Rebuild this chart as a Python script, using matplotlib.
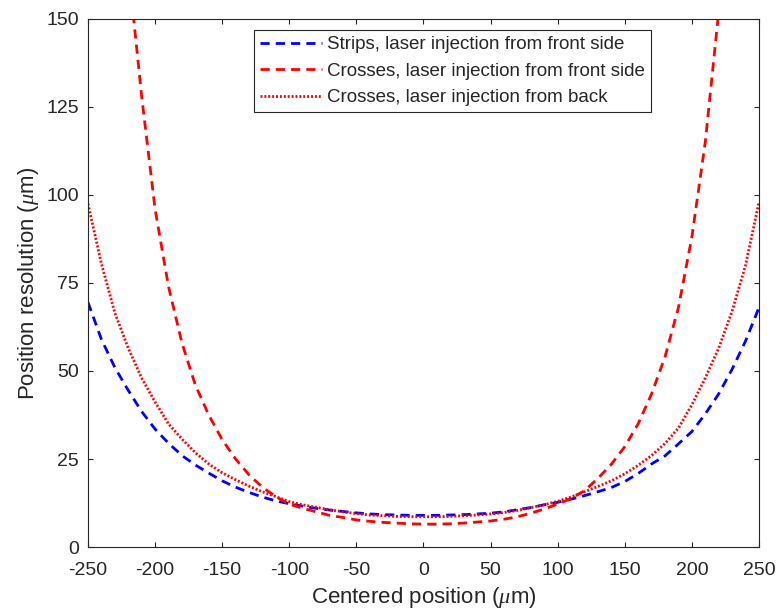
import numpy as np
import matplotlib.pyplot as plt

plt.rcParams['font.family'] = ['Liberation Sans', 'DejaVu Sans']
plt.rcParams['mathtext.fontset'] = 'custom'
plt.rcParams['mathtext.it'] = 'Liberation Serif:italic'
plt.rcParams['axes.unicode_minus'] = False

# positions in micrometers
x_pos = [-250, -240, -230, -220, -210, -200, -190, -180, -170, -160, -150,
         -140, -130, -120, -110, -100, -90, -80, -70, -60, -50, -40, -30,
         -20, -10, 0, 10, 20, 30, 40, 50, 60, 70, 80, 90, 100, 110, 120,
         130, 140, 150, 160, 170, 180, 190, 200, 210, 220, 230, 240, 250]

strips_front = [69.5, 59, 51, 44.5, 38.5, 33.5, 29.5, 26, 23.3, 21, 18.8,
                17, 15.5, 14.2, 13.1, 12.3, 11.6, 11.0, 10.5, 10.1, 9.7, 9.4, 9.2,
                9.1, 9.0, 9.0, 9.0, 9.1, 9.2, 9.4, 9.6, 10.0, 10.6, 11.2, 12.0, 12.7, 13.6, 14.6,
                15.7, 16.9, 18.6, 20.9, 23.6, 25.9, 29.3, 32.8, 37.8, 43.5, 50.5, 58.5, 68]

# crosses, front side: leaves the plot above 150 near +-218
x_cross = x_pos[3:-3]
crosses_front = [165, 128, 96, 74, 58, 46, 37.5, 30.5,
                 25, 20.5, 17, 14.3, 12.2, 11.0, 10.0, 9.0, 8.4, 7.7, 7.3, 7.0,
                 6.8, 6.6, 6.5, 6.5, 6.6, 6.8, 7.1, 7.4, 7.9, 8.6, 9.6, 10.8, 12.2, 13.8, 16.0,
                 19.5, 23.5, 28.5, 35, 43.5, 54, 68, 88, 115, 152]

crosses_back = [97.5, 80.5, 66.5, 56.5, 48, 41.2, 35, 30.7, 26.8, 23.6, 21.1,
                19.1, 17.3, 15.7, 14.3, 12.9, 12.0, 11.3, 10.6, 10.0, 9.5, 9.1, 8.9,
                8.7, 8.6, 8.6, 8.6, 8.7, 8.9, 9.1, 9.4, 9.8, 10.4, 11.2, 12.0, 13.0, 14.2, 15.7,
                17.2, 18.8, 20.8, 23.2, 26, 29.4, 33.8, 40.4, 48, 56.5, 67, 80, 98]

labels = ['Strips, laser injection from front side',
          'Crosses, laser injection from front side',
          'Crosses, laser injection from back']

fig = plt.figure(figsize=(7.8, 6.11), dpi=100)
ax = fig.add_axes([0.1128, 0.1047, 0.8602, 0.8643])

ax.plot(x_pos, strips_front, color='#0000ff', lw=2.0, ls=(0, (3.3, 2.2)), label=labels[0])
ax.plot(x_cross, crosses_front, color='#ff0000', lw=2.0, ls=(0, (3.3, 2.2)), label=labels[1])
ax.plot(x_pos, crosses_back, color='#ff0000', lw=2.0, ls=(0, (0.7, 0.7)), label=labels[2])

ax.set_xlim(-250, 250)
ax.set_ylim(0, 150)
ax.set_xticks(np.arange(-250, 251, 50))
ax.set_yticks(np.arange(0, 151, 25))

dark = '#262626'
for s in ax.spines.values():
    s.set_color(dark)
    s.set_linewidth(0.8)
ax.tick_params(direction='in', length=3.6, width=0.8, colors=dark, labelsize=14,
               top=True, right=True)
ax.tick_params(axis='x', pad=11)
ax.tick_params(axis='y', pad=6.5)

ax.set_xlabel(r'Centered position ($\mu$m)', fontsize=16, color=dark, labelpad=4)
ax.set_ylabel(r'Position resolution ($\mu$m)', fontsize=16, color=dark, labelpad=4)

leg = ax.legend(loc='upper left', bbox_to_anchor=(0.247, 0.979), borderaxespad=0,
                fontsize=13.5, fancybox=False, framealpha=1, edgecolor=dark,
                handlelength=3.3, handletextpad=0.3, labelspacing=0.5,
                borderpad=0.32)
leg.get_frame().set_linewidth(0.8)
for t in leg.get_texts():
    t.set_color(dark)

fig.savefig('out.png', dpi=100)
